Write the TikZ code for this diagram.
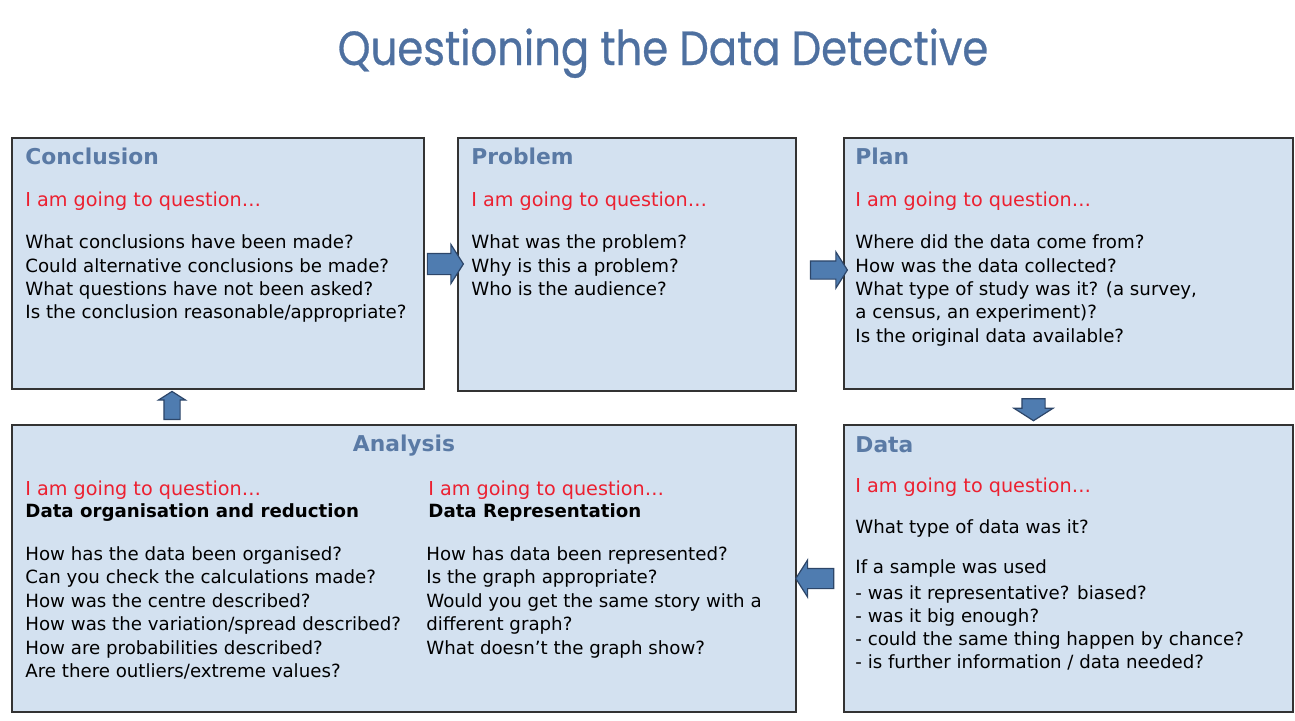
\documentclass[tikz,border=0pt]{standalone}
\usepackage{fontspec}
\setmainfont{DejaVu Sans}
\newfontfamily\titlefont[FakeStretch=0.87, FakeBold=0.6]{Poppins}
\usetikzlibrary{shapes.arrows, positioning, calc, fit}
\definecolor{boxfill}{RGB}{211,225,240}
\definecolor{headblue}{RGB}{90,122,165}
\definecolor{titleblue}{RGB}{78,112,160}
\definecolor{qred}{RGB}{236,32,48}
\definecolor{arrowfill}{RGB}{79,124,176}
\definecolor{arrowline}{RGB}{45,70,105}
\tikzset{
	stagebox/.style={draw=black!80, line width=1pt, fill=boxfill, rectangle, inner sep=0pt},
	stagehead/.style={anchor=base west, inner sep=0pt, text=headblue, font=\bfseries\fontsize{10.9}{13}\selectfont},
	askline/.style={anchor=base west, inner sep=0pt, text=qred, font=\fontsize{9.6}{12}\selectfont},
	qline/.style={anchor=base west, inner sep=0pt, font=\fontsize{9.1}{11}\selectfont},
	subhead/.style={anchor=base west, inner sep=0pt, font=\bfseries\fontsize{9.1}{11}\selectfont},
	blockarrow/.style={single arrow, draw=arrowline, fill=arrowfill, line width=0.6pt, inner xsep=0pt,
		inner ysep=5pt, minimum width=0pt, single arrow head extend=4.5pt, single arrow tip angle=115,
		minimum height=18pt}
}

\begin{document}
\begin{tikzpicture}[x=0.5pt, y=-0.5pt]
	\useasboundingbox (0,0) rectangle (1295,720);
	% title
	\node[anchor=base, inner sep=0pt, text=titleblue, font=\titlefont\fontsize{24}{28}\selectfont] (title) at (663,65) {Questioning the Data Detective};

	% the five stages
	\node[stagebox, fit={(12,138) (424,389)}] (concl) {};
	\node[stagebox, fit={(458,138) (796,391)}] (prob) {};
	\node[stagebox, fit={(844,138) (1293,389)}] (plan) {};
	\node[stagebox, fit={(844,425) (1293,712)}] (data) {};
	\node[stagebox, fit={(12,425) (796,712)}] (anal) {};

	% Conclusion
	\node[stagehead] (concl-head) at (25,164) {Conclusion};
	\node[askline] (concl-ask) at (25,206) {I am going to question…};
	\foreach \yy/\txt [count=\i] in {248/What conclusions have been made?, 272/Could alternative conclusions be made?,
		295/What questions have not been asked?, 318/{Is the conclusion reasonable/appropriate?}}
		\node[qline] (concl-q\i) at (25,\yy) {\txt};

	% Problem
	\node[stagehead] (prob-head) at (471,164) {Problem};
	\node[askline] (prob-ask) at (471,206) {I am going to question…};
	\foreach \yy/\txt [count=\i] in {248/What was the problem?, 272/Why is this a problem?, 295/Who is the audience?}
		\node[qline] (prob-q\i) at (471,\yy) {\txt};

	% Plan
	\node[stagehead] (plan-head) at (855,164) {Plan};
	\node[askline] (plan-ask) at (855,206) {I am going to question…};
	\foreach \yy/\txt [count=\i] in {248/Where did the data come from?, 272/How was the data collected?,
		295/{What type of study was it? (a survey,}, 318/{a census, an experiment)?}, 342/Is the original data available?}
		\node[qline] (plan-q\i) at (855,\yy) {\txt};

	% Data
	\node[stagehead] (data-head) at (855,452) {Data};
	\node[askline] (data-ask) at (855,492) {I am going to question…};
	\node[qline] (data-type) at (855,533) {What type of data was it?};
	\foreach \yy/\txt [count=\i] in {573/If a sample was used, 599/- was it representative? biased?, 622/- was it big enough?,
		645/- could the same thing happen by chance?, 668/{- is further information / data needed?}}
		\node[qline] (data-q\i) at (855,\yy) {\txt};

	% Analysis
	\node[stagehead, anchor=base] (anal-head) at (404,451) {Analysis};
	\node[askline] (anal-askl) at (25,495) {I am going to question…};
	\node[askline] (anal-askr) at (428,495) {I am going to question…};
	\node[subhead] (anal-subl) at (25,517) {Data organisation and reduction};
	\node[subhead] (anal-subr) at (428,517) {Data Representation};
	\foreach \yy/\txt [count=\i] in {560/How has the data been organised?, 583.5/Can you check the calculations made?,
		607/How was the centre described?, 630.5/{How was the variation/spread described?},
		654/How are probabilities described?, 677.5/{Are there outliers/extreme values?}}
		\node[qline] (anal-l\i) at (25,\yy) {\txt};
	\foreach \yy/\txt [count=\i] in {560/How has data been represented?, 583.5/Is the graph appropriate?,
		607/Would you get the same story with a, 630.5/different graph?, 654/What doesn’t the graph show?}
		\node[qline] (anal-r\i) at (426,\yy) {\txt};

	% block arrows between the stages
	\node[blockarrow] (a1) at ($(concl.east)!.5!(prob.west)+(1,0)$) {};
	\node[blockarrow, inner ysep=4.25pt, minimum height=18.5pt] (a2) at ($(prob.east)!.5!(plan.west)+(6,6)$) {};
	\node[blockarrow, rotate=-90, inner ysep=5.5pt, single arrow head extend=4pt, minimum height=11pt] (a3) at ($(plan.south)!.5!(data.north)+(-35,-1)$) {};
	\node[blockarrow, rotate=180, inner ysep=4.75pt, single arrow head extend=4.25pt, minimum height=19pt] (a4) at ($(data.west)!.5!(anal.east)+(-2,10)$) {};
	\node[blockarrow, rotate=90, inner ysep=3.75pt, single arrow head extend=2.75pt, minimum height=14pt] (a5) at ($(anal.north west)!.5!(concl.south west)+(161,1)$) {};
\end{tikzpicture}
\end{document}
